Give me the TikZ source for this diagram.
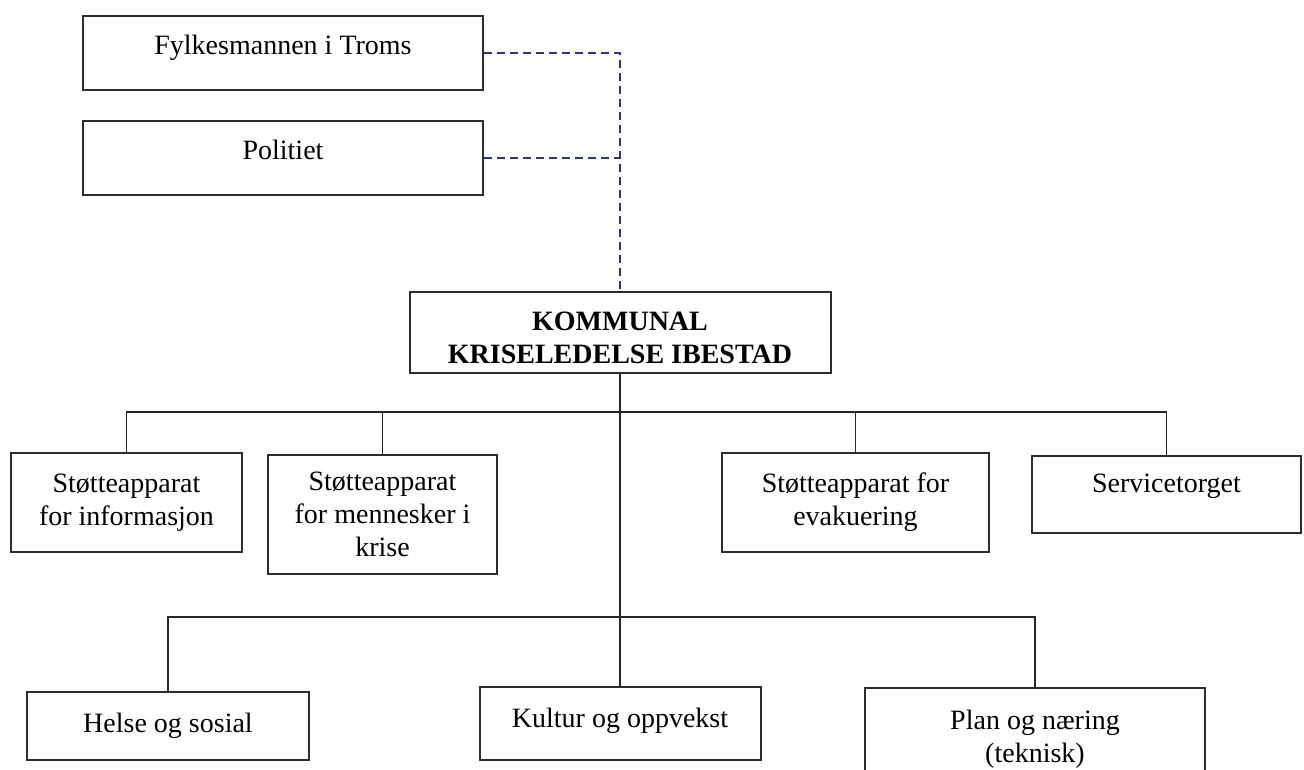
\documentclass[tikz,border=0pt]{standalone}
\usepackage{fontspec}
\setmainfont{Liberation Serif}
\usepackage{xcolor}
\usepackage{tikz}
\usetikzlibrary{shapes,arrows}
\definecolor{boxgray}{RGB}{45,45,45}
\definecolor{navyline}{RGB}{50,50,135}

\begin{document}
\begin{tikzpicture}[x=1pt,y=-1pt,
  box/.style={draw=boxgray,line width=2pt,fill=white,align=center,inner sep=0pt,
    font=\fontsize{28}{33}\selectfont},
  raisetext/.style={text height=19pt,text depth=#1},
  link/.style={draw=black!85,line width=1.8pt},
  dashlink/.style={draw=navyline,line width=2pt,dash pattern=on 8pt off 5pt}]
  \fill[white] (0,0) rectangle (1304,769);
  \useasboundingbox (0,0) rectangle (1304,769);

  \node[box,raisetext=17pt,minimum width=400pt,minimum height=74pt] (fylke) at (283,53) {Fylkesmannen i Troms};
  \node[box,raisetext=17pt,minimum width=400pt,minimum height=74pt] (politi) at (283,158) {Politiet};
  \node[box,minimum width=421pt,minimum height=81pt,font=\fontsize{28}{33}\selectfont\bfseries]
    (krise) at (620,332.5) {\rule{0pt}{29pt}KOMMUNAL\\KRISELEDELSE IBESTAD};

  \node[box,minimum width=231pt,minimum height=99pt] (info) at (126.5,502.5) {Støtteapparat\\for informasjon};
  \node[box,minimum width=229pt,minimum height=119pt] (mennesker) at (382.5,514.5) {Støtteapparat\\for mennesker i\\krise};
  \node[box,minimum width=267pt,minimum height=99pt] (evak) at (855.5,502.5) {Støtteapparat for\\evakuering};
  \node[box,raisetext=23pt,minimum width=269pt,minimum height=77pt] (service) at (1166.5,494.5) {Servicetorget};

  \node[box,minimum width=282pt,minimum height=68pt] (helse) at (168,726) {Helse og sosial};
  \node[box,raisetext=12pt,minimum width=281pt,minimum height=73pt] (kultur) at (620,723.5) {Kultur og oppvekst};
  \node[box,minimum width=340pt,minimum height=102pt] (plan) at (1035,739) {Plan og næring\\(teknisk)};

  \coordinate (upbus) at (620,412);
  \coordinate (lowbus) at (620,617);

  \draw[dashlink] (fylke.east) -| (krise.north);
  \draw[dashlink] (politi.east) -- (politi.east -| krise.north);

  \draw[link] (krise.south) -- (lowbus);
  \draw[link] (info.north) |- (upbus) -| (service.north);
  \foreach \n in {mennesker,evak}
    \draw[link] (\n.north) -- (\n.north |- upbus);
  \draw[link] (helse.north) |- (lowbus) -| (plan.north);
  \draw[link] (kultur.north) -- (lowbus);
\end{tikzpicture}
\end{document}
